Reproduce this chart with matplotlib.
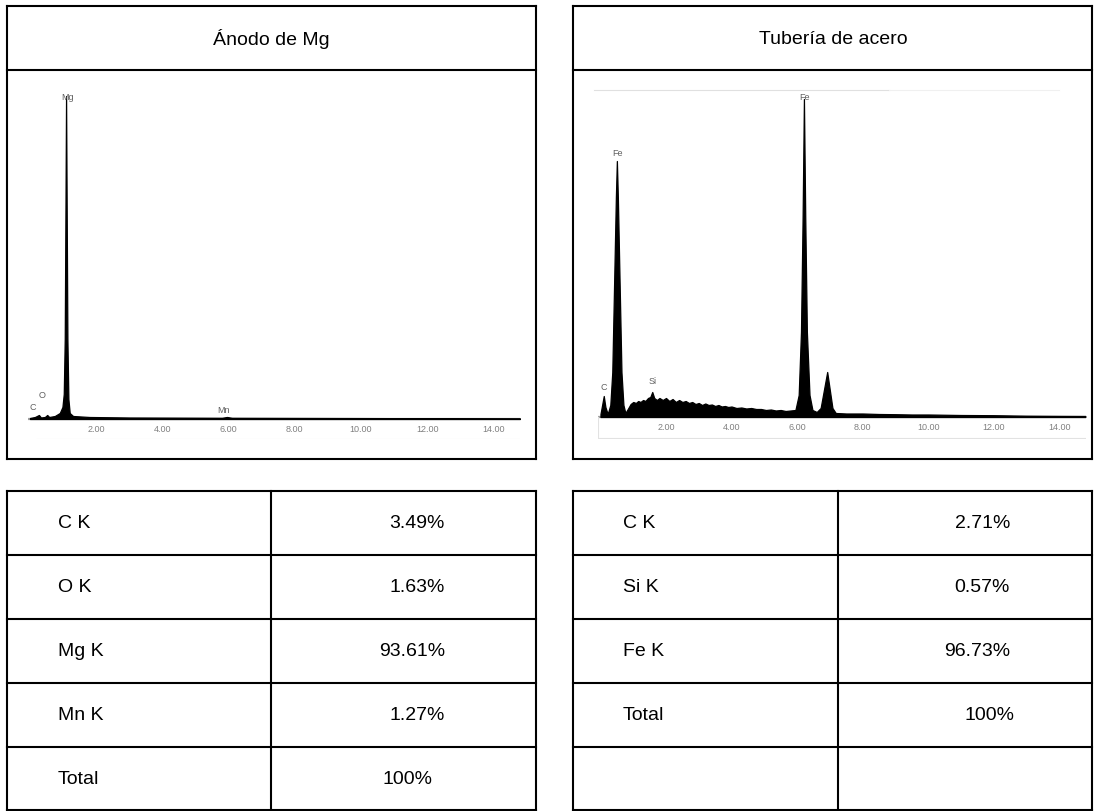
import matplotlib
matplotlib.use("Agg")
import matplotlib.pyplot as plt

plt.rcParams['font.family'] = ['Liberation Sans', 'DejaVu Sans']

# ---------------- data ----------------
titles = ["Ánodo de Mg", "Tubería de acero"]

mg_rows = ["C K", "O K", "Mg K", "Mn K", "Total"]
mg_vals = ["3.49%", "1.63%", "93.61%", "1.27%", "100%"]
fe_rows = ["C K", "Si K", "Fe K", "Total", ""]
fe_vals = ["2.71%", "0.57%", "96.73%", "100%", ""]

tick_vals = [2, 4, 6, 8, 10, 12, 14]

# EDS spectrum of the Mg anode (energy keV, counts a.u.)
mg_energy = [0.0, 0.15, 0.27, 0.33, 0.45, 0.52, 0.58, 0.75, 0.9, 0.98, 1.02, 1.05,
             1.07, 1.09, 1.11, 1.13, 1.16, 1.2, 1.3, 1.8, 3.0, 5.8, 5.95, 6.1, 9.0, 14.8]
mg_counts = [1, 2, 4, 1.5, 2, 4, 2, 3, 6, 12, 25, 80,
             200, 323, 200, 80, 20, 6, 3, 2, 1.5, 1.2, 2, 1.2, 1, 0.6]
mg_peaks = ["Mg", "C", "O", "Mn"]
mg_peak_e = [1.15, 0.09, 0.36, 5.83]
mg_peak_c = [323, 12, 24, 9]

# EDS spectrum of the steel pipe
fe_energy = [0.0, 0.05, 0.1, 0.15, 0.22, 0.3, 0.36, 0.42, 0.47, 0.5, 0.53, 0.58, 0.64, 0.7, 0.76,
             0.85, 0.92, 1.0, 1.08, 1.15, 1.22, 1.3, 1.37, 1.45, 1.52, 1.58, 1.64, 1.72, 1.8,
             1.9, 2.0, 2.1, 2.2, 2.3, 2.4, 2.5, 2.6, 2.7, 2.8, 2.9, 3.0, 3.1, 3.2, 3.3,
             3.4, 3.5, 3.6, 3.7, 3.8, 3.9, 4.0, 4.15, 4.3, 4.45, 4.6, 4.75, 4.9, 5.05,
             5.2, 5.35, 5.5, 5.65, 5.8, 5.95,
             6.05, 6.12, 6.17, 6.21, 6.25, 6.3, 6.38, 6.47, 6.6, 6.72, 6.82, 6.92,
             7.0, 7.08, 7.18, 7.5, 8.0, 8.5, 9.0, 9.5, 10.0, 11.0, 12.0, 13.0, 14.0, 14.8]
fe_counts = [3, 12, 21, 10, 3, 12, 45, 140, 220, 256, 220, 140, 45, 12, 4,
             9, 13, 15, 14, 16, 15, 17, 16, 19, 20, 25, 19, 17, 19,
             17, 19, 16, 18, 15, 17, 15, 16, 14, 15, 13, 14, 12, 13.5, 12,
             12.5, 11, 12, 10.5, 11, 10, 10.5, 9, 9.5, 8.5, 9, 8, 8, 7,
             7.5, 6.5, 7, 6, 6.5, 7,
             22, 85, 200, 318, 200, 85, 22, 7, 5, 9, 27, 45,
             27, 9, 4, 3.5, 3.5, 3, 2.8, 2.5, 2.5, 2, 1.8, 1.3, 1.1, 1]
fe_peaks = ["Fe", "Fe", "C", "Si"]
fe_peak_e = [6.24, 0.53, 0.11, 1.6]
fe_peak_c = [320, 264, 30, 36]

# ---------------- figure ----------------
W, H = 1094, 812
fig = plt.figure(figsize=(W / 100, H / 100), dpi=100)
ov = fig.add_axes([0, 0, 1, 1])
ov.set_xlim(0, W)
ov.set_ylim(H, 0)
ov.axis('off')

lw = 1.5
def hline(y, x0, x1):
    ov.plot([x0, x1], [y, y], color='black', lw=lw, solid_capstyle='projecting')
def vline(x, y0, y1):
    ov.plot([x, x], [y0, y1], color='black', lw=lw, solid_capstyle='projecting')

# upper boxes (title + spectrum)
for (x0, x1) in [(7, 536), (573, 1092)]:
    hline(7, x0, x1)
    hline(71, x0, x1)
    hline(460, x0, x1)
    vline(x0, 7, 460)
    vline(x1, 7, 460)

fs = 14
ov.text(271, 39, titles[0], ha='center', va='center', fontsize=fs)
ov.text(833, 39, titles[1], ha='center', va='center', fontsize=fs)

# lower tables
row_edges = [492, 556, 620, 684, 748, 811]
for (x0, xm, x1) in [(7, 271, 536), (573, 838, 1092)]:
    for y in row_edges:
        hline(y, x0, x1)
    vline(x0, row_edges[0], row_edges[-1])
    vline(xm, row_edges[0], row_edges[-1])
    vline(x1, row_edges[0], row_edges[-1])

for i in range(5):
    yc = (row_edges[i] + row_edges[i + 1]) / 2
    ov.text(58, yc, mg_rows[i], ha='left', va='center', fontsize=fs)
    ov.text(445 if mg_vals[i] != "100%" else 433, yc, mg_vals[i],
            ha='right', va='center', fontsize=fs)
    ov.text(623, yc, fe_rows[i], ha='left', va='center', fontsize=fs)
    ov.text(1010 if fe_vals[i] != "100%" else 1014, yc, fe_vals[i],
            ha='right', va='center', fontsize=fs)

# ---------------- spectra ----------------
def px_axes(left, right, top, bottom):
    return fig.add_axes([left / W, 1 - bottom / H, (right - left) / W, (bottom - top) / H])

def draw_spec(ax, e, c, names, pe, pc, xlim, ylim, ticky):
    ax.set_xlim(*xlim)
    ax.set_ylim(*ylim)
    ax.axis('off')
    ax.axhline(0, color='#a0a0a0', lw=1.6, zorder=0)
    ax.fill_between(e, 0, c, color='black', lw=0.9, edgecolor='black')
    for t in tick_vals:
        ax.text(t, ticky, f"{t:.2f}", ha='center', va='center', fontsize=6.5, color='#808080')
    for n, x, y in zip(names, pe, pc):
        ax.text(x, y, n, ha='center', va='center', fontsize=6.5, color='#606060')

axL = px_axes(28, 520, 90, 440)
draw_spec(axL, mg_energy, mg_counts, mg_peaks, mg_peak_e, mg_peak_c,
          (-0.06, 14.80), (-20, 330), -10)
axL.plot([0.2, 14.85], [-19.5, -19.5], color='#e2e2e2', lw=0.8)

axR = px_axes(598, 1086, 90, 440)
draw_spec(axR, fe_energy, fe_counts, fe_peaks, fe_peak_e, fe_peak_c,
          (-0.076, 14.82), (-22, 328), -10)
axR.plot([-0.07, 14.8], [-21, -21], color='#e2e2e2', lw=0.8)
axR.plot([-0.2, 8.8], [327, 327], color='#e0e0e0', lw=0.8, clip_on=False)
axR.plot([8.8, 14.0], [327, 327], color='#f0f0f0', lw=0.8, clip_on=False)
axR.plot([-0.07, -0.07], [0, -21], color='#e2e2e2', lw=0.8)

fig.savefig("out.png", dpi=100)
